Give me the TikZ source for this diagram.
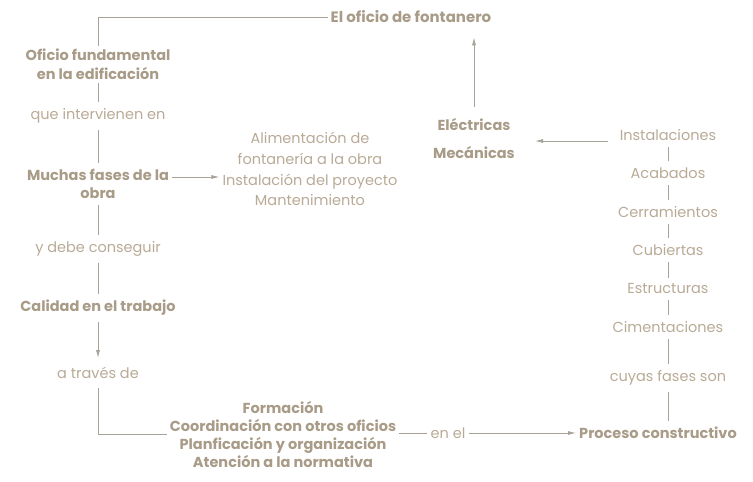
\documentclass[tikz,border=0pt]{standalone}
\usepackage{fontspec}
\setmainfont{Poppins}
\usetikzlibrary{arrows.meta}
\definecolor{txt}{RGB}{184,170,150}
\definecolor{btxt}{RGB}{168,155,135}
\definecolor{ln}{RGB}{168,163,152}
\tikzset{
  t/.style={font=\fontsize{14.5}{17.7}\selectfont, text=txt, align=center, inner xsep=3pt, inner ysep=6pt},
  b/.style={font=\fontsize{14.5}{17.7}\selectfont\bfseries, text=btxt, align=center, inner xsep=3pt, inner ysep=6pt},
  con/.style={draw=ln, line width=0.8pt},
  arr/.style={con, -{Latex[length=8pt,width=4pt]}}
}
\begin{document}
\begin{tikzpicture}[x=1pt,y=-1pt]
\useasboundingbox (0,0) rectangle (753,482);
\node[b, font=\fontsize{15}{18}\selectfont\bfseries] (title) at (411,17) {El oficio de fontanero};
\node[b, font=\fontsize{14.5}{19}\selectfont\bfseries, inner ysep=3pt] (of) at (98,64.5) {Oficio fundamental\\en la edificación};
\node[t] (que) at (98,116) {que intervienen en};
\node[b, font=\fontsize{14.5}{18}\selectfont\bfseries] (muchas) at (98,184) {Muchas fases de la\\obra};
\node[t, font=\fontsize{14.5}{20.7}\selectfont] (list) at (310,169) {Alimentación de\\fontanería a la obra\\Instalación del proyecto\\Mantenimiento};
\node[t] (ydebe) at (98,249) {y debe conseguir};
\node[b] (calidad) at (98,308) {Calidad en el trabajo};
\node[t, inner ysep=9pt] (traves) at (98,373) {a través de};
\node[b] (form) at (283,434.5) {Formación\\Coordinación con otros oficios\\Planficación y organización\\Atención a la normativa};
\node[t] (enel) at (448,433) {en el};
\node[b] (proc) at (658,433) {Proceso constructivo};
\node[t] (cuyas) at (668,378) {cuyas fases son};
\node[t] (cim) at (668,327) {Cimentaciones};
\node[t] (est) at (668,289) {Estructuras};
\node[t] (cub) at (668,250) {Cubiertas};
\node[t] (cer) at (668,212) {Cerramientos};
\node[t] (aca) at (668,173) {Acabados};
\node[t, inner xsep=12pt] (ins) at (668,135) {Instalaciones};
\node[b, font=\fontsize{14.5}{28}\selectfont\bfseries, inner xsep=20pt, inner ysep=12pt] (elec) at (474,139) {Eléctricas\\Mecánicas};
\coordinate (m1) at ([yshift=7pt]muchas.east);
\coordinate (i1) at ([yshift=-6pt]ins.west);

\draw[con] (of.north) |- (title.west);
\draw[con] (of.south) -- (que.north);
\draw[con] (que.south) -- (muchas.north);
\draw[arr] (m1) -- (list.west |- m1);
\draw[con] (muchas.south) -- (ydebe.north);
\draw[con] (ydebe.south) -- (calidad.north);
\draw[arr] (calidad.south) -- (traves.north);
\draw[con] (traves.south) |- (form.west);
\draw[con] (enel.west -| form.east) -- (enel.west);
\draw[arr] (enel.east) -- (proc.west);
\draw[con] (proc.north -| cuyas) -- (cuyas.south);
\draw[con] (cuyas.north) -- (cim.south);
\draw[con] (cim.north) -- (est.south);
\draw[con] (est.north) -- (cub.south);
\draw[con] (cub.north) -- (cer.south);
\draw[con] (cer.north) -- (aca.south);
\draw[con] (aca.north) -- (ins.south);
\draw[arr] (i1) -- (elec.east |- i1);
\draw[arr, shorten >=8pt] (elec.north) -- (title.south -| elec);
\end{tikzpicture}
\end{document}
